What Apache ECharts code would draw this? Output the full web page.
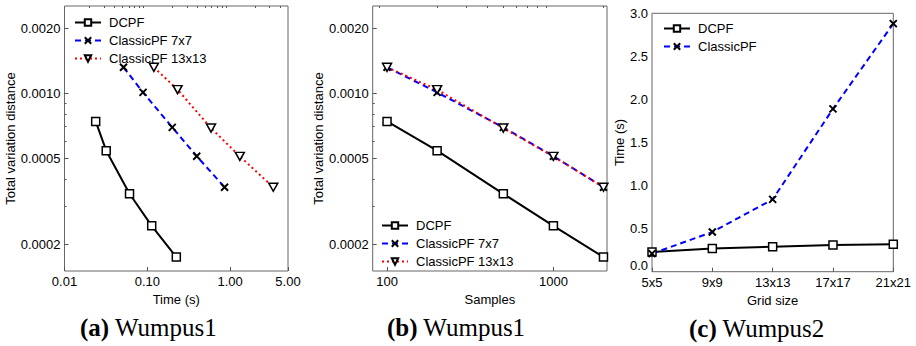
<!DOCTYPE html>
<html>
<head>
<meta charset="utf-8">
<script src="https://cdn.jsdelivr.net/npm/echarts@6/dist/echarts.min.js"></script>
<style>
  html, body { margin: 0; padding: 0; background: #fff; }
  #chart { width: 916px; height: 346px; }
</style>
</head>
<body>
<div id="chart"></div>
<script>
// panel (a): time vs total variation distance
const timeDcpf = [0.0238, 0.0319, 0.061, 0.113, 0.224];
const time7 = [0.0516, 0.0888, 0.2, 0.395, 0.857];
const time13 = [0.12, 0.232, 0.588, 1.31, 3.32];
// total variation distance, shared by (a) and (b)
const tvdDcpf = [0.000741, 0.000542, 0.000342, 0.000243, 0.000174];
const tvd7 = [0.00132, 0.00101, 0.000695, 0.000511, 0.000367];
const tvd13 = [0.00132, 0.00104, 0.00069, 0.00051, 0.000367];
// panel (b): samples
const samples = [100, 200, 500, 1000, 2000];
// panel (c): grid size vs time
const gridSizes = ["5x5", "9x9", "13x13", "17x17", "21x21"];
const gridTimeDcpf = [0.23, 0.27, 0.29, 0.31, 0.32];
const gridTimeClassic = [0.21, 0.46, 0.84, 1.89, 2.88];

const tvdTicks = [0.0002, 0.0005, 0.001, 0.002];
const tvdMinor = [0.0003, 0.0004, 0.0006, 0.0007, 0.0008, 0.0009];
const timeTicks = [0.01, 0.1, 1, 5];
const timeMinor = [0.02, 0.03, 0.04, 0.05, 0.06, 0.07, 0.08, 0.09, 0.2, 0.3, 0.4, 0.5, 0.6, 0.7, 0.8, 0.9, 2, 3, 4];
const sampleTicks = [100, 1000];
const sampleMinor = [90, 200, 300, 400, 500, 600, 700, 800, 900, 2000];

const FONT = "'Liberation Sans', Arial, sans-serif";
const SERIF = "'Liberation Serif', 'Times New Roman', serif";
const tickColor = "#555";

const squareSym = "rect";
const crossSym = "path://M0,0L10,10M10,0L0,10";
const triSym = "path://M0,0L10,0L5,9Z";

const chart = echarts.init(document.getElementById("chart"), null, { renderer: "svg" });

const zip = (xs, ys) => xs.map((x, i) => [x, ys[i]]);

function logAxis(gridIndex, min, max, ticks, fmt, extra) {
  return Object.assign({
    type: "log",
    gridIndex,
    min,
    max,
    axisLine: { show: false },
    splitLine: { show: false },
    axisTick: { inside: true, length: 4, lineStyle: { color: tickColor }, customValues: ticks },
    axisLabel: { customValues: ticks, formatter: fmt, color: "#000", fontFamily: FONT, fontSize: 13, margin: 4 },
    nameTextStyle: { color: "#000", fontFamily: FONT, fontSize: 13 },
  }, extra || {});
}

function minorAxis(gridIndex, min, max, ticks, extra) {
  return Object.assign({
    type: "log",
    gridIndex,
    min,
    max,
    axisLine: { show: false },
    splitLine: { show: false },
    axisLabel: { show: false },
    axisTick: { inside: true, length: 2, lineStyle: { color: tickColor }, customValues: ticks },
  }, extra || {});
}

const dcpfStyle = {
  symbol: squareSym,
  symbolSize: 8,
  itemStyle: { color: "#fff", borderColor: "#000", borderWidth: 1.5 },
  lineStyle: { color: "#000", width: 2, type: "solid" },
};
const pf7Style = {
  symbol: crossSym,
  symbolSize: 7,
  itemStyle: { color: "#000", borderColor: "#000", borderWidth: 2 },
  lineStyle: { color: "#0000ff", width: 2, type: [6, 4] },
};
const pf13Style = {
  symbol: triSym,
  symbolSize: [9, 8],
  itemStyle: { color: "#fff", borderColor: "#000", borderWidth: 1.5 },
  lineStyle: { color: "#ff0000", width: 2, type: [2, 3] },
};

function line(name, data, xi, yi, style) {
  return Object.assign({
    name,
    type: "line",
    data,
    xAxisIndex: xi,
    yAxisIndex: yi,
    showAllSymbol: true,
    animation: false,
  }, style);
}

const legendText = { color: "#000", fontFamily: FONT, fontSize: 13, padding: [0, 0, 0, 3] };
const captionStyle = (letter) => ({
  text: "{b|(" + letter + ")} Wumpus" + (letter === "c" ? "2" : "1"),
  padding: 0,
  textStyle: {
    fontFamily: SERIF, fontSize: 25, fontWeight: "normal", color: "#000",
    rich: { b: { fontFamily: SERIF, fontSize: 25, fontWeight: "bold", color: "#000" } },
  },
});

const tvdFmt = (v) => v.toFixed(4);
const gridBox = { show: true, borderColor: "#666", borderWidth: 1, backgroundColor: "transparent" };
const legendBase = { orient: "vertical", itemWidth: 26, itemHeight: 8, itemGap: 5, textStyle: legendText, selectedMode: false };

chart.setOption({
  animation: false,
  title: [
    Object.assign(captionStyle("a"), { left: 80, top: 315 }),
    Object.assign(captionStyle("b"), { left: 387, top: 315 }),
    Object.assign(captionStyle("c"), { left: 689, top: 316 }),
  ],
  grid: [
    Object.assign({ left: 64.5, right: 628, top: 6, bottom: 75 }, gridBox),
    Object.assign({ left: 372.7, right: 309, top: 6, bottom: 75 }, gridBox),
    Object.assign({ left: 652, right: 22.7, top: 13.3, bottom: 74.3 }, gridBox),
  ],
  legend: [
    Object.assign({ left: 69, top: 11, data: ["DCPF", "ClassicPF 7x7", "ClassicPF 13x13"] }, legendBase),
    Object.assign({ left: 376, top: 214, data: ["DCPF", "ClassicPF 7x7", "ClassicPF 13x13"] }, legendBase),
    Object.assign({ left: 658, top: 17, data: ["DCPF", "ClassicPF"] }, legendBase),
  ],
  xAxis: [
    logAxis(0, 0.01, 5, timeTicks, (v) => v.toFixed(2),
      { name: "Time (s)", nameLocation: "middle", nameGap: 17 }),
    logAxis(1, 82, 2100, sampleTicks, (v) => String(Math.round(v)),
      { name: "Samples", nameLocation: "middle", nameGap: 17 }),
    {
      type: "category",
      gridIndex: 2,
      data: gridSizes,
      boundaryGap: false,
      name: "Grid size",
      nameLocation: "middle",
      nameGap: 16,
      nameTextStyle: { color: "#000", fontFamily: FONT, fontSize: 13 },
      axisLine: { show: false },
      splitLine: { show: false },
      axisTick: { inside: true, length: 4, lineStyle: { color: tickColor } },
      axisLabel: { color: "#000", fontFamily: FONT, fontSize: 13, margin: 4, interval: 0 },
    },
    minorAxis(0, 0.01, 5, timeMinor),
    minorAxis(1, 82, 2100, sampleMinor),
  ],
  yAxis: [
    logAxis(0, 0.00015, 0.00254, tvdTicks, tvdFmt,
      { name: "Total variation distance", nameLocation: "middle", nameGap: 45 }),
    logAxis(1, 0.00015, 0.00254, tvdTicks, tvdFmt,
      { name: "Total variation distance", nameLocation: "middle", nameGap: 46 }),
    {
      type: "value",
      gridIndex: 2,
      min: 0,
      max: 3,
      interval: 0.5,
      name: "Time (s)",
      nameLocation: "middle",
      nameGap: 24,
      nameTextStyle: { color: "#000", fontFamily: FONT, fontSize: 13 },
      axisLine: { show: false },
      splitLine: { show: false },
      axisTick: { inside: true, length: 4, lineStyle: { color: tickColor } },
      axisLabel: {
        color: "#000", fontFamily: FONT, fontSize: 13, margin: 4,
        // lift the bottom label a little so it clears "5x5"
        formatter: (v) => (v === 0 ? "{z|0.0}" : v.toFixed(1)),
        rich: { z: { fontFamily: FONT, fontSize: 13, color: "#000", padding: [0, 0, 12, 0] } },
      },
    },
    minorAxis(0, 0.00015, 0.00254, tvdMinor, { position: "left" }),
    minorAxis(1, 0.00015, 0.00254, tvdMinor, { position: "left" }),
  ],
  series: [
    line("DCPF", zip(timeDcpf, tvdDcpf), 0, 0, dcpfStyle),
    line("ClassicPF 7x7", zip(time7, tvd7), 0, 0, pf7Style),
    line("ClassicPF 13x13", zip(time13, tvd13), 0, 0, pf13Style),
    line("DCPF", zip(samples, tvdDcpf), 1, 1, dcpfStyle),
    line("ClassicPF 7x7", zip(samples, tvd7), 1, 1, pf7Style),
    line("ClassicPF 13x13", zip(samples, tvd13), 1, 1, pf13Style),
    line("DCPF", gridTimeDcpf, 2, 2, dcpfStyle),
    line("ClassicPF", gridTimeClassic, 2, 2, pf7Style),
  ],
});
</script>
</body>
</html>
